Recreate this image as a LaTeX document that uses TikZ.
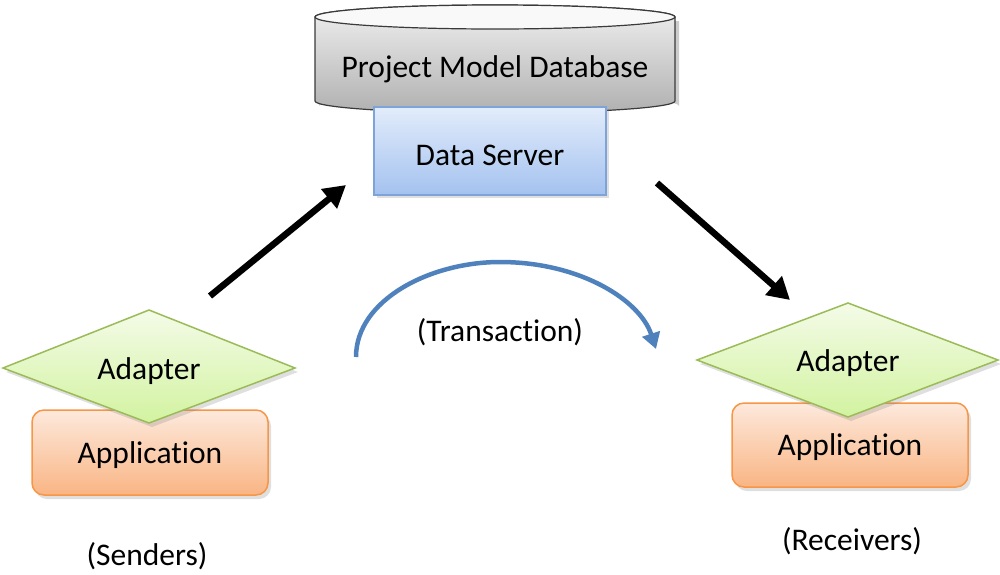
\documentclass[tikz,border=0pt]{standalone}
\usepackage{fontspec}
\setmainfont{Carlito}[Ligatures=NoCommon]
\usetikzlibrary{arrows.meta,shadows,shapes.geometric}
\definecolor{dbline}{HTML}{3A3A3A}
\definecolor{dbtop}{HTML}{F0F0F0}
\definecolor{dbbot}{HTML}{B0B0B0}
\definecolor{dsline}{HTML}{7EA3D8}
\definecolor{dstop}{HTML}{E2ECFB}
\definecolor{dsbot}{HTML}{A4C2EF}
\definecolor{adline}{HTML}{9BBB59}
\definecolor{adtop}{HTML}{F4FBE8}
\definecolor{adbot}{HTML}{D2F3A0}
\definecolor{apline}{HTML}{F79646}
\definecolor{aptop}{HTML}{FDE9DC}
\definecolor{apbot}{HTML}{F9B584}
\definecolor{trans}{HTML}{4F81BD}
\tikzset{
  lbl/.style={font=\fontsize{31.5}{36}\selectfont, text=black},
  dsbox/.style={draw=dsline, line width=1.2pt, top color=dstop, bottom color=dsbot, drop shadow={shadow xshift=3pt, shadow yshift=-3pt, opacity=0.25}},
  appbox/.style={draw=apline, line width=1.5pt, rounded corners=12pt, top color=aptop, bottom color=apbot, drop shadow={shadow xshift=3pt, shadow yshift=-4pt, opacity=0.25}},
  adbox/.style={draw=adline, line width=1.5pt, top color=adtop, bottom color=adbot, drop shadow={shadow xshift=3pt, shadow yshift=-4pt, opacity=0.25}},
  flow/.style={line width=6.5pt, black, -{Triangle[length=22pt, width=24pt]}},
  transarrow/.style={line width=4.5pt, trans, -{Triangle[length=16pt, width=18pt]}},
}
\begin{document}
\begin{tikzpicture}[x=1pt, y=-1pt]
\useasboundingbox (0,0) rectangle (1000,574);
% database cylinder
\path[fill=black, opacity=0.2] (319,21) -- (319,106) arc[start angle=180, end angle=360, x radius=180, y radius=12] -- (679,21) -- cycle;
\path[draw=dbline, line width=1.2pt, top color=dbtop, bottom color=dbbot]
  (315,17) -- (315,101) arc[start angle=180, end angle=360, x radius=180, y radius=-12] -- (675,17)
  arc[start angle=0, end angle=180, x radius=180, y radius=-12] -- cycle;
\draw[dbline, line width=1.2pt, fill=white!60!dbtop] (495,17) ellipse[x radius=180, y radius=12];
\node[lbl] (db) at (495,69) {Project Model Database};
% data server
\node[dsbox, minimum width=232pt, minimum height=88pt] (ds) at (490,151) {};
\node[lbl] (dstext) at (490,155) {Data Server};
% left sender
\node[appbox, minimum width=236pt, minimum height=85pt] (appL) at (150,452.5) {};
\path[adbox] (149,310) -- (295,368) -- (149,423) -- (3,368) -- cycle;
\node[lbl] (adL) at (149,371) {Adapter};
\node[lbl] (appLt) at (150,455) {Application};
% right receiver
\node[appbox, minimum width=236pt, minimum height=84pt] (appR) at (850,445) {};
\path[adbox] (848,303) -- (998,360) -- (848,417) -- (697,360) -- cycle;
\node[lbl] (adR) at (848,363) {Adapter};
\node[lbl] (appRt) at (850,447) {Application};
% labels
\node[lbl] (trn) at (500,332) {(Transaction)};
\node[lbl] (snd) at (147,556) {(Senders)};
\node[lbl] (rcv) at (852,541) {(Receivers)};
% arrows
\coordinate (a1s) at (210,296);
\coordinate (a1e) at (346,185);
\coordinate (a2s) at (657,183);
\coordinate (a2e) at (790,300);
\draw[flow] (a1s) -- (a1e);
\draw[flow] (a2s) -- (a2e);
\coordinate (ts) at (356,357);
\coordinate (te) at (656,349);
\draw[transarrow] (ts) .. controls (356,300) and (430,262) .. (500,262) .. controls (580,262) and (640,300) .. (te);
\end{tikzpicture}
\end{document}
